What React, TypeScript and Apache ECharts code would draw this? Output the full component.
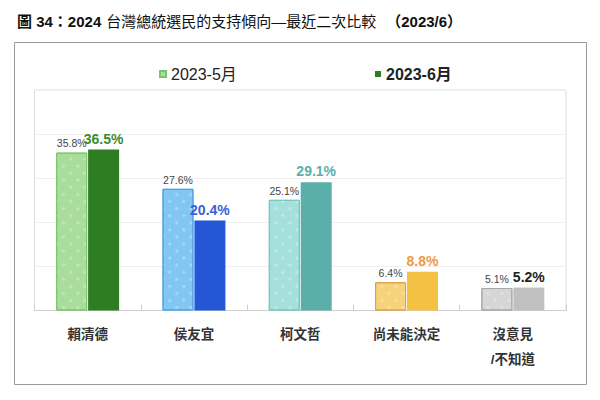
import React, { useEffect, useRef } from "react";
import * as echarts from "echarts";

const categories = ["賴清德", "侯友宜", "柯文哲", "尚未能決定", "沒意見\n/不知道"];
const seriesNames = ["2023-5月", "2023-6月"];
const may = [35.8, 27.6, 25.1, 6.4, 5.1];
const june = [36.5, 20.4, 29.1, 8.8, 5.2];

const mayColors = ["#a9dd9c", "#82c6f2", "#a6e0dc", "#f6d27a", "#d6d6d6"];
const mayBorders = ["#7cc46c", "#4aa3e6", "#74c8c2", "#e0a048", "#a8a8a8"];
const juneColors = ["#2f7d23", "#2456d6", "#5aafaa", "#f4c143", "#c0c0c0"];
const juneLabelColors = ["#3d8b2f", "#3a5fd9", "#5aafaa", "#ee9a3e", "#222222"];

const FONT = "'Liberation Sans', Arial, 'Noto Sans CJK TC', sans-serif";

export default function App() {
  const ref = useRef<HTMLDivElement>(null);
  useEffect(() => {
    if (!ref.current) return;
    const chart = echarts.init(ref.current, undefined, { renderer: "svg" });
    chart.setOption({
      animation: false,
      backgroundColor: "#ffffff",
      textStyle: { fontFamily: FONT },
      title: {
        left: 12,
        top: 8,
        text: "{b|圖 34：2024} {n|台灣總統選民的支持傾向—最近二次比較}  {b|（2023/6）}",
        textStyle: {
          rich: {
            b: { fontSize: 15, fontWeight: "bold", color: "#111", fontFamily: FONT },
            n: { fontSize: 15, fontWeight: "normal", color: "#111", fontFamily: FONT },
          },
        },
      },
      graphic: [
        {
          type: "rect",
          shape: { x: 14.5, y: 42.5, width: 572, height: 342 },
          style: { fill: "none", stroke: "#9a9a9a", lineWidth: 1 },
          silent: true,
        },
      ],
      legend: [
        {
          data: [seriesNames[0]],
          left: 154,
          top: 61,
          icon: "rect",
          itemWidth: 6,
          itemHeight: 6,
          itemGap: 6,
          textStyle: { fontSize: 16, color: "#222", fontFamily: FONT },
        },
        {
          data: [seriesNames[1]],
          left: 370,
          top: 61,
          icon: "rect",
          itemWidth: 6,
          itemHeight: 6,
          itemGap: 6,
          textStyle: { fontSize: 16, color: "#222", fontWeight: "bold", fontFamily: FONT },
        },
      ],
      grid: {
        left: 34.5,
        right: 34,
        top: 90,
        bottom: 89.5,
        show: true,
        borderColor: "#dcdcdc",
        borderWidth: 1,
        containLabel: false,
      },
      xAxis: {
        type: "category",
        data: categories,
        axisLine: { lineStyle: { color: "#cfcfcf" } },
        axisTick: { show: true, inside: true, length: 6, lineStyle: { color: "#cfcfcf" } },
        axisLabel: {
          fontSize: 13.5,
          fontWeight: "bold",
          color: "#333",
          lineHeight: 25,
          margin: 11,
          fontFamily: FONT,
        },
      },
      yAxis: {
        type: "value",
        min: 0,
        max: 50,
        interval: 10,
        axisLabel: { show: false },
        axisLine: { show: false },
        axisTick: { show: false },
        splitLine: { lineStyle: { color: "#efefef" } },
      },
      series: [
        {
          name: seriesNames[0],
          type: "bar",
          barWidth: 31,
          barGap: "3%",
          itemStyle: {
            color: mayColors[0],
            borderColor: mayBorders[0],
            borderWidth: 1,
            decal: {
              symbol: "rect",
              symbolSize: 0.55,
              color: "rgba(255,255,255,0.3)",
              dashArrayX: 5,
              dashArrayY: 5,
              rotation: Math.PI / 4,
            },
          },
          label: {
            show: true,
            position: "top",
            distance: 4,
            fontSize: 10.5,
            color: "#444",
            formatter: "{c}%",
            fontFamily: FONT,
          },
          data: may.map((v, i) => ({
            value: v,
            itemStyle: { color: mayColors[i], borderColor: mayBorders[i] },
          })),
        },
        {
          name: seriesNames[1],
          type: "bar",
          barWidth: 31,
          itemStyle: { color: juneColors[0] },
          label: {
            show: true,
            position: "top",
            distance: 4,
            fontSize: 14,
            fontWeight: "bold",
            formatter: "{c}%",
            fontFamily: FONT,
          },
          data: june.map((v, i) => ({
            value: v,
            itemStyle: { color: juneColors[i] },
            label: { color: juneLabelColors[i] },
          })),
        },
      ],
    });
    return () => chart.dispose();
  }, []);
  return (
    <div
      ref={ref}
      style={{ position: "fixed", left: 0, top: 0, width: 600, height: 400, background: "#fff" }}
    />
  );
}
